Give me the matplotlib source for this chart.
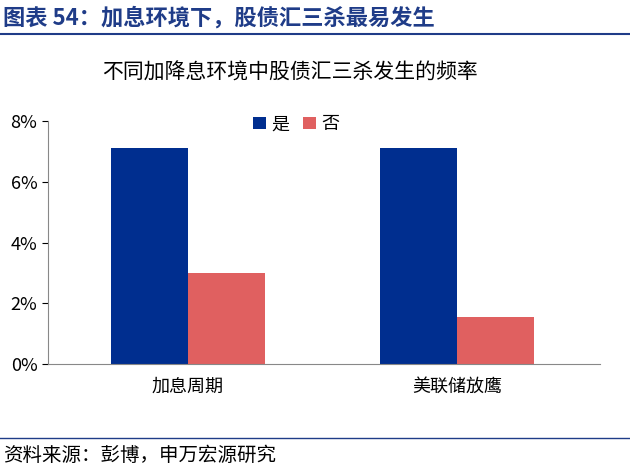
import matplotlib
matplotlib.use("Agg")
import matplotlib.pyplot as plt
from matplotlib.lines import Line2D
import numpy as np

plt.rcParams['font.family'] = ['Noto Sans CJK SC', 'DejaVu Sans']

categories = ["加息周期", "美联储放鹰"]
yes_vals = [7.1, 7.1]
no_vals = [3.0, 1.55]

fig = plt.figure(figsize=(6.3, 4.71), dpi=100)
ax = fig.add_axes([0.076, 0.227, 0.876, 0.516])

x = np.arange(len(categories))
w = 0.286
ax.bar(x - w/2, yes_vals, w, color='#002E8F', label='是')
ax.bar(x + w/2, no_vals, w, color='#E06060', label='否')

ax.set_xlim(-0.52, 1.53)
ax.set_ylim(0, 8)
ax.set_yticks([0, 2, 4, 6, 8])
ax.set_yticklabels([f"{v}%" for v in [0, 2, 4, 6, 8]], fontsize=13)
ax.set_xticks(x)
ax.set_xticklabels(categories, fontsize=13)
ax.tick_params(axis='x', length=0, pad=10)
ax.tick_params(axis='y', direction='out', length=4)
for s in ['top', 'right']:
    ax.spines[s].set_visible(False)
ax.spines['left'].set_color('#888888')
ax.spines['bottom'].set_color('#888888')
ax.legend(loc='upper center', bbox_to_anchor=(0.45, 1.09), ncol=2, frameon=False,
          fontsize=13, handlelength=0.7, handleheight=0.7, columnspacing=0.8,
          handletextpad=0.3)

fig.text(0.46, 0.845, "不同加降息环境中股债汇三杀发生的频率", ha='center', va='center', fontsize=15)
fig.text(0.005, 0.962, "图表 54：加息环境下，股债汇三杀最易发生", ha='left', va='center',
         fontsize=16, fontweight='bold', color='#1F3C88')
fig.add_artist(Line2D([0, 1], [0.928, 0.928], color='#1F3C88', lw=1.5))
fig.add_artist(Line2D([0, 1], [0.07, 0.07], color='#1F3C88', lw=1))
fig.text(0.005, 0.033, "资料来源：彭博，申万宏源研究", ha='left', va='center', fontsize=14)

fig.savefig("out.png", dpi=100)
